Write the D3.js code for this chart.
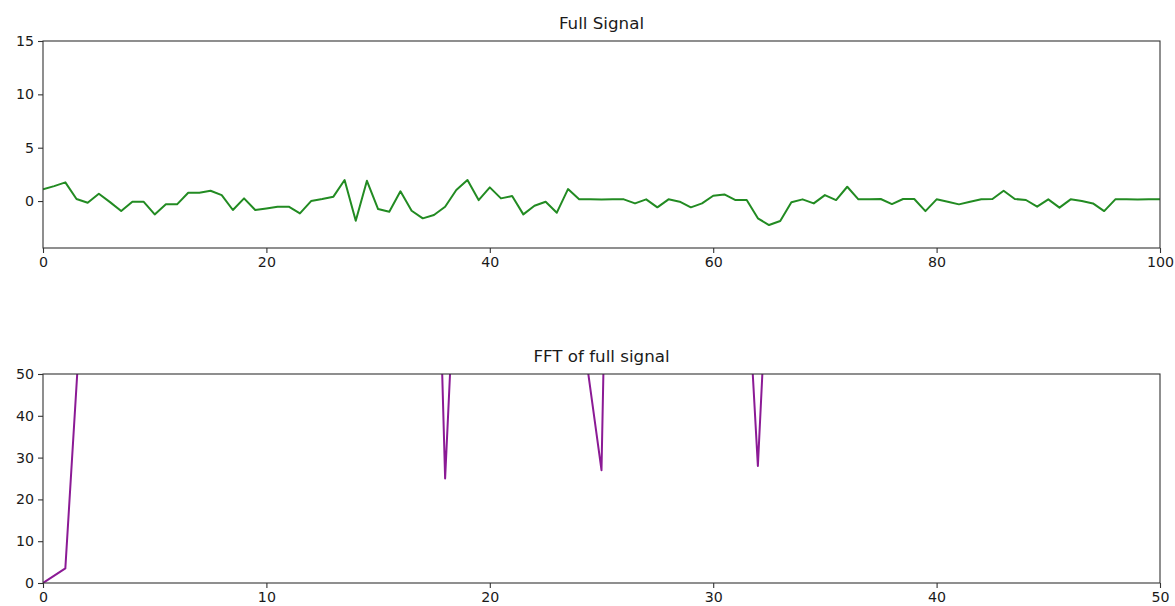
<!DOCTYPE html>
<html>
<head>
<meta charset="utf-8">
<script src="https://cdn.jsdelivr.net/npm/d3@7"></script>
<style>
  body { margin: 0; background: #fff; }
  text { font-family: "DejaVu Sans", sans-serif; fill: #1a1a1a; }
</style>
</head>
<body>
<div id="chart"></div>
<script>
// signal samples, one per x = 0..100
const signalValues = [
  1.1, 1.4, 1.75, 0.19, -0.16, 0.69, -0.1, -0.94, -0.06, -0.06,
  -1.25, -0.31, -0.31, 0.78, 0.78, 0.97, 0.56, -0.84, 0.25, -0.84,
  -0.69, -0.53, -0.53, -1.16, 0.0, 0.19, 0.41, 1.97, -1.84, 1.9,
  -0.75, -1.0, 0.91, -0.91, -1.62, -1.31, -0.53, 1.03, 1.97, 0.09,
  1.28, 0.25, 0.47, -1.25, -0.44, -0.06, -1.09, 1.12, 0.16, 0.16,
  0.15, 0.16, 0.16, -0.22, 0.16, -0.59, 0.16, -0.06, -0.59, -0.22,
  0.5, 0.62, 0.09, 0.09, -1.62, -2.25, -1.87, -0.12, 0.16, -0.22,
  0.56, 0.09, 1.34, 0.16, 0.16, 0.19, -0.28, 0.19, 0.19, -0.94,
  0.16, -0.06, -0.31, -0.06, 0.16, 0.19, 0.97, 0.19, 0.1, -0.53,
  0.16, -0.62, 0.16, 0.0, -0.22, -0.94, 0.16, 0.16, 0.14, 0.16, 0.16
];

// FFT magnitudes, one per frequency = 0..50 (most are far above the visible 0..50 window)
const fftValues = [
  0, 3.5, 91, 120, 140, 110, 130, 150, 125, 135,
  140, 120, 130, 145, 135, 150, 160, 217, 25, 139,
  160, 150, 140, 120, 66, 27, 300, 180, 150, 140,
  130, 124, 28, 138, 150, 140, 130, 120, 125, 135,
  130, 120, 140, 130, 125, 135, 140, 130, 120, 130, 125
];

const signalYTicks = [0, 5, 10, 15];
const signalXTicks = [0, 20, 40, 60, 80, 100];
const fftYTicks = [0, 10, 20, 30, 40, 50];
const fftXTicks = [0, 10, 20, 30, 40, 50];

const W = 1175, H = 606;
const left = 43, right = 1160;

const svg = d3.select("#chart").append("svg")
  .attr("width", W)
  .attr("height", H);

function drawPanel(cfg) {
  const x = d3.scaleLinear().domain(cfg.xDomain).range([left, right]);
  const y = d3.scaleLinear().domain(cfg.yDomain).range([cfg.bottom, cfg.top]);

  const g = svg.append("g");

  g.append("clipPath").attr("id", cfg.id)
    .append("rect")
    .attr("x", left).attr("y", cfg.top)
    .attr("width", right - left).attr("height", cfg.bottom - cfg.top);

  const line = d3.line()
    .x((d, i) => x(i))
    .y(d => y(d));

  g.append("path")
    .datum(cfg.values)
    .attr("clip-path", `url(#${cfg.id})`)
    .attr("fill", "none")
    .attr("stroke", cfg.color)
    .attr("stroke-width", 2)
    .attr("stroke-linejoin", "round")
    .attr("d", line);

  // x axis
  const xa = g.append("g")
    .attr("transform", `translate(0,${cfg.bottom})`)
    .call(d3.axisBottom(x).tickValues(cfg.xTicks).tickSize(5).tickPadding(4).tickFormat(d3.format("d")));
  // y axis
  const ya = g.append("g")
    .attr("transform", `translate(${left},0)`)
    .call(d3.axisLeft(y).tickValues(cfg.yTicks).tickSize(5).tickPadding(4).tickFormat(d3.format("d")));

  [xa, ya].forEach(a => {
    a.select(".domain").remove();
    a.selectAll(".tick line").attr("stroke", "#333").attr("stroke-width", 1.1);
    a.selectAll(".tick text").style("font-size", "14.2px").attr("fill", "#1a1a1a");
  });

  // frame
  g.append("rect")
    .attr("x", left).attr("y", cfg.top)
    .attr("width", right - left).attr("height", cfg.bottom - cfg.top)
    .attr("fill", "none")
    .attr("stroke", "#333")
    .attr("stroke-width", 1.1);

  g.append("text")
    .attr("x", (left + right) / 2)
    .attr("y", cfg.top - 12)
    .attr("text-anchor", "middle")
    .style("font-size", "16.7px")
    .text(cfg.title);
}

drawPanel({
  id: "clipSignal",
  values: signalValues,
  xDomain: [0, 100],
  yDomain: [-4.4, 15],
  top: 41, bottom: 248,
  xTicks: signalXTicks, yTicks: signalYTicks,
  color: "#228B22",
  title: "Full Signal"
});

drawPanel({
  id: "clipFft",
  values: fftValues,
  xDomain: [0, 50],
  yDomain: [0, 50],
  top: 374, bottom: 583,
  xTicks: fftXTicks, yTicks: fftYTicks,
  color: "#8B1A95",
  title: "FFT of full signal"
});
</script>
</body>
</html>
